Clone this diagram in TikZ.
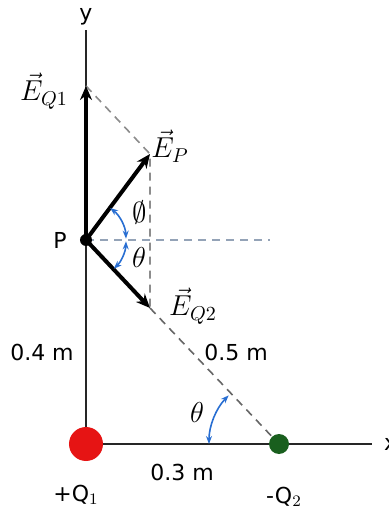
\documentclass[tikz,border=0pt]{standalone}
\usepackage{fontspec}
\setmainfont{DejaVu Sans}
\usetikzlibrary{arrows.meta,calc}
\definecolor{qred}{RGB}{230,20,20}
\definecolor{qgreen}{RGB}{25,95,30}
\definecolor{arcblue}{RGB}{40,110,210}
\begin{document}
\begin{tikzpicture}[x=0.5pt, y=0.5pt,
  axis/.style={line width=1pt, draw=black!85},
  vec/.style={-{Stealth[length=7pt,width=6pt]}, line width=2pt},
  helper/.style={dashed, line width=0.8pt, draw=black!45, dash pattern=on 4pt off 3pt},
  angarc/.style={{Stealth[length=4pt,width=3pt]}-{Stealth[length=4pt,width=3pt]}, line width=0.8pt, draw=arcblue},
  charge/.style={circle, inner sep=0pt},
  label/.style={font=\fontsize{11}{13}\selectfont},
  mlabel/.style={font=\Large, inner sep=1pt}
]
\useasboundingbox (-86,-64) rectangle (302,444);
% axes
\coordinate (O) at (0,0);
\coordinate (yend) at (0,414);
\coordinate (xend) at (286,0);
\draw[axis] (O) -- (yend);
\draw[axis] (O) -- (xend);
\node[label] (ylab) at (0,427) {y};
\node[label, anchor=west] (xlab) at (291,0) {x};
% charges
\node[charge, fill=qred, minimum size=17pt] (q1) at (0,0) {};
\node[charge, fill=qgreen, minimum size=10pt] (q2) at (193,0) {};
% field point and vectors
\coordinate (P) at (0,204);
\coordinate (eq1) at (0,358);
\coordinate (ep) at (64,290);
\coordinate (eq2) at (64,136);
\coordinate (hend) at (184,204);
\draw[helper] (eq1) -- (ep) -- (eq2);
\draw[helper, draw=arcblue!45!black!45] (P) -- (hend);
\draw[helper, draw=black!60] (eq2) -- (q2);
\draw[vec] (P) -- (eq1);
\draw[vec] (P) -- (ep);
\draw[vec] (P) -- (eq2);
\fill (P) circle (3pt);
% angles
\draw[angarc] ($(P)+(53:40)$) arc (53:2:40);
\draw[angarc] ($(P)+(-2:40)$) arc (-2:-46:40);
\draw[angarc] ($(q2)+(180:70)$) arc (180:136:70);
% labels
\node[label] (plab) at (-26,204) {P};
\node[mlabel] (eq1lab) at (-42,353) {$\vec{E}_{Q1}$};
\node[mlabel] (eplab) at (84,298) {$\vec{E}_{P}$};
\node[mlabel] (eq2lab) at (107,138) {$\vec{E}_{Q2}$};
\node[mlabel] (philab) at (54,231) {$\emptyset$};
\node[mlabel] (th1lab) at (53,186) {$\theta$};
\node[mlabel] (th2lab) at (111,32) {$\theta$};
\node[label] (d04) at (-44,92) {0.4 m};
\node[label] (d05) at (150,92) {0.5 m};
\node[label] (d03) at (96,-28) {0.3 m};
\node[label] (q1lab) at (-10,-51) {+Q$_1$};
\node[label] (q2lab) at (198,-53) {-Q$_2$};
\end{tikzpicture}
\end{document}
